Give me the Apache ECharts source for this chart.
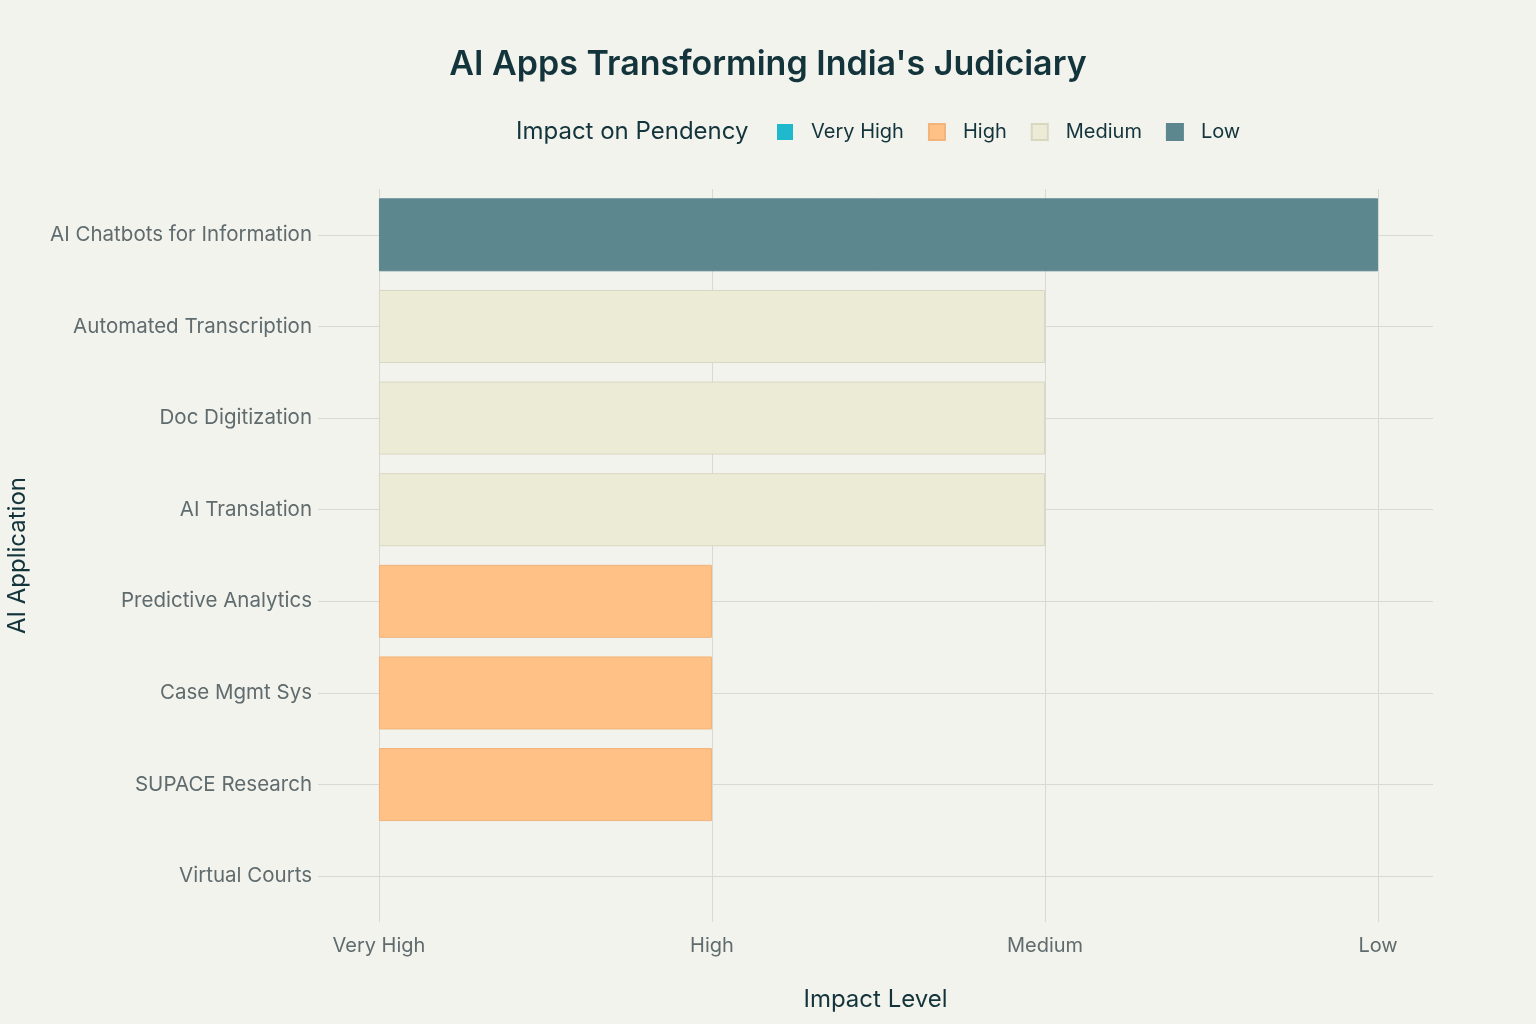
<!DOCTYPE html>
<html>
<head>
<meta charset="utf-8">
<script src="https://cdn.jsdelivr.net/npm/echarts@6/dist/echarts.min.js"></script>
<style>
  html, body { margin: 0; padding: 0; background: #f3f3ee; }
  #chart { width: 1536px; height: 1024px; }
</style>
</head>
<body>
<div id="chart"></div>
<script>
const apps = [
  "Virtual Courts",
  "SUPACE Research",
  "Case Mgmt Sys",
  "Predictive Analytics",
  "AI Translation",
  "Doc Digitization",
  "Automated Transcription",
  "AI Chatbots for Information"
];
// impact level per app: 0 = Very High, 1 = High, 2 = Medium, 3 = Low
const impact = [0, 1, 1, 1, 2, 2, 2, 3];
const levels = ["Very High", "High", "Medium", "Low"];
const levelColors = ["#1fb8cd", "#ffc185", "#ecebd5", "#5d878f"];
const levelBorders = ["#1fb8cd", "#f0b47c", "#d9d7c2", "#5d878f"];
const tickValues = [0, 1, 2, 3];

const chart = echarts.init(document.getElementById("chart"));
const font = "Inter, 'Open Sans', sans-serif";

const series = levels.map((lvl, li) => ({
  name: lvl,
  type: "bar",
  stack: "impact",
  barWidth: 73,
  z: 3,
  itemStyle: {
    color: levelColors[li],
    borderColor: levelBorders[li],
    borderWidth: li === 0 ? 0 : 1
  },
  data: impact.map(v => (v === li ? v : null))
}));

// grid lines drawn through markLine on the scales, kept behind the bars
series.push({
  name: "grid",
  type: "line",
  data: [],
  silent: true,
  z: 0,
  markLine: {
    z: 1,
    symbol: "none",
    silent: true,
    animation: false,
    label: { show: false },
    lineStyle: { color: "#d9d9d4", width: 1, type: "solid" },
    data: tickValues.map(v => ({ xAxis: v })).concat(apps.map(a => ({ yAxis: a })))
  }
});

chart.setOption({
  backgroundColor: "#f3f3ee",
  animation: false,
  textStyle: { fontFamily: font },
  title: [
    {
      text: "AI Apps Transforming India's Judiciary",
      left: "center",
      top: 43,
      textStyle: { fontSize: 34, fontWeight: 600, color: "#13343b", fontFamily: font }
    },
    {
      text: "Impact on Pendency",
      left: 511,
      top: 115,
      textStyle: { fontSize: 24, fontWeight: "normal", color: "#13343b", fontFamily: font }
    }
  ],
  legend: {
    data: levels,
    left: 772,
    top: 117,
    itemWidth: 16,
    itemHeight: 16,
    itemGap: 24,
    icon: "rect",
    textStyle: { fontSize: 20, color: "#13343b", fontFamily: font, padding: [0, 0, 0, 13] }
  },
  grid: { left: 318, right: 103, top: 189, bottom: 102, containLabel: false, outerBoundsMode: "none" },
  xAxis: {
    type: "value",
    min: -0.183,
    max: 3.165,
    name: "Impact Level",
    nameLocation: "middle",
    nameGap: 66,
    nameTextStyle: { fontSize: 24, color: "#13343b", fontFamily: font },
    axisLine: { show: false },
    axisTick: { show: false },
    splitLine: { show: false },
    axisLabel: {
      customValues: tickValues,
      formatter: v => levels[Math.round(v)],
      fontSize: 20,
      color: "#5f6b6d",
      margin: 14
    }
  },
  yAxis: {
    type: "category",
    data: apps,
    name: "AI Application",
    nameLocation: "middle",
    nameRotate: 90,
    nameGap: 288,
    nameTextStyle: { fontSize: 24, color: "#13343b", fontFamily: font },
    axisLine: { show: false },
    axisTick: { show: false },
    splitLine: { show: false },
    axisLabel: { fontSize: 20.5, color: "#5f6b6d", margin: 6 }
  },
  series: series
});
</script>
</body>
</html>
